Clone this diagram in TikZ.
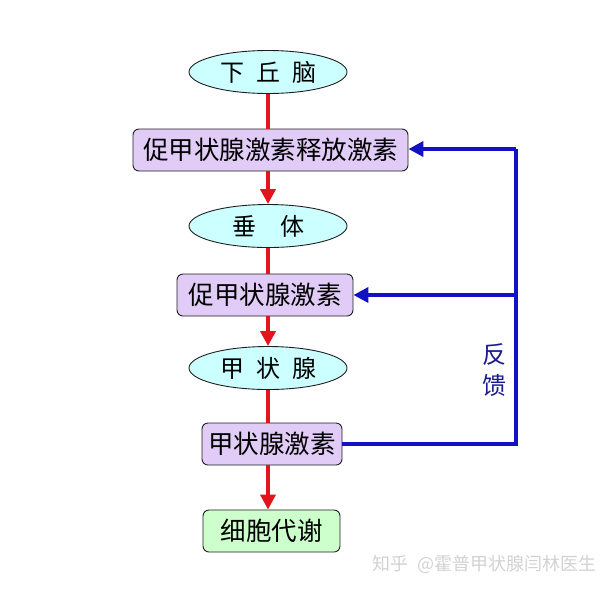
\documentclass[tikz,border=0pt]{standalone}
\usepackage{fontspec}
\setmainfont{Noto Sans CJK SC}
\usepackage{tikz}
\usetikzlibrary{arrows.meta,calc,positioning,shapes.geometric}
\definecolor{OrganCyan}{HTML}{CCFFFF}
\definecolor{HormoneLilac}{HTML}{E1CCF7}
\definecolor{CellGreen}{HTML}{CCFFCC}
\definecolor{Ink}{HTML}{1F1F1F}
\definecolor{AxisRed}{HTML}{E3151C}
\definecolor{FeedbackBlue}{HTML}{1212C4}
\definecolor{FeedbackText}{HTML}{1A1A8C}
\definecolor{MarkGray}{HTML}{D2D2D2}

\begin{document}
\begin{tikzpicture}[x=1pt, y=-1pt,
    organ/.style={ellipse,draw=Ink,line width=0.9pt,fill=OrganCyan,minimum width=158pt,minimum height=43pt,inner sep=0pt,font=\fontsize{24}{27}\selectfont},
    hormone/.style={rectangle,rounded corners=6pt,draw=Ink,line width=0.9pt,fill=HormoneLilac,minimum height=42pt,inner sep=0pt,font=\fontsize{25.5}{29}\selectfont},
    axis/.style={AxisRed,line width=4.5pt},
    axisarrow/.style={axis,-{Triangle[length=15pt,width=15pt]}},
    feedback/.style={FeedbackBlue,line width=3.8pt},
    feedbackarrow/.style={feedback,-{Triangle[length=15pt,width=15pt]}}]
    \useasboundingbox (0,0) rectangle (609,590);
    \node[organ] (hypo) at (268,72) {下\hspace{0.5em}丘\hspace{0.5em}脑};
    \node[hormone,minimum width=275pt] (trh) at (270.5,150) {促甲状腺激素释放激素};
    \node[organ] (pit) at (268,226) {垂\hspace{1em}体};
    \node[hormone,minimum width=176pt] (tsh) at (265,295) {促甲状腺激素};
    \node[organ] (thy) at (268,368) {甲\hspace{0.5em}状\hspace{0.5em}腺};
    \node[hormone,minimum width=140pt] (th) at (272,444) {甲状腺激素};
    \node[hormone,fill=CellGreen,minimum width=137pt] (cell) at (271.5,531) {细胞代谢};
    \coordinate (turn) at (516,444);
    \coordinate (top) at (516,149);
    \draw[axis] (hypo.south) -- (hypo.south |- trh.north);
    \draw[axisarrow] (hypo.south |- trh.south) -- (pit.north);
    \draw[axis] (pit.south) -- (pit.south |- tsh.north);
    \draw[axisarrow] (pit.south |- tsh.south) -- (thy.north);
    \draw[axis] (thy.south) -- (thy.south |- th.north);
    \draw[axisarrow] (thy.south |- th.south) -- (thy.south |- cell.north);
    \draw[feedback] (th.east) -- (turn) -- (top);
    \draw[feedbackarrow] (top) -- (top -| trh.east);
    \draw[feedbackarrow] (tsh.east -| turn) -- (tsh.east);
    \node[FeedbackText,font=\fontsize{24}{31}\selectfont,align=center] (label) at (494,370) {反\\馈};
    \node[MarkGray,font=\fontsize{18}{20}\selectfont,anchor=west] (mark) at (369,564) {知乎\hspace{0.5em}@霍普甲状腺闫林医生};
\end{tikzpicture}
\end{document}
